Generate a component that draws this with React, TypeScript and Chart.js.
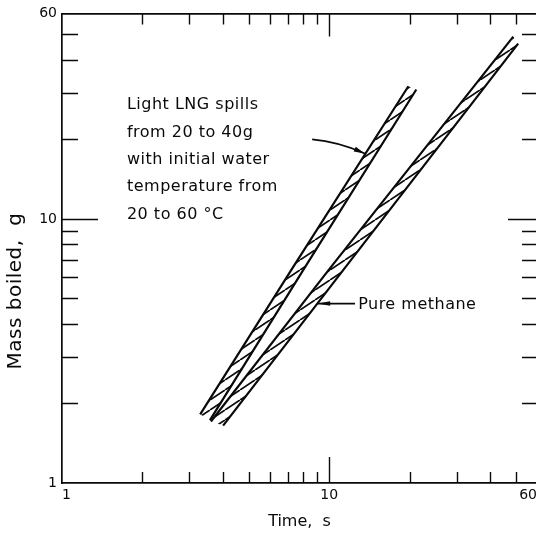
import React, { useEffect, useRef } from 'react';
import { Chart, registerables } from 'chart.js';

Chart.register(...registerables);

// ---------------- data ----------------
const axisMin = 1;
const axisMax = 60;
const tickValues = [1, 2, 3, 4, 5, 6, 7, 8, 9, 10, 20, 30, 40, 50, 60];
const labeledValues = [1, 10, 60];
const majorValues = [10];

// Light LNG band (time s, mass g)
const lngLeftTime = [3.29, 7.27, 19.8];
const lngLeftMass = [1.82, 6.48, 31.8];
const lngRightTime = [3.58, 8.06, 21.2];
const lngRightMass = [1.73, 6.48, 30.9];

// Pure methane band
const methaneLeftTime = [3.61, 10.05, 48.9];
const methaneLeftMass = [1.71, 6.48, 49.0];
const methaneRightTime = [4.01, 11.4, 51.0];
const methaneRightMass = [1.65, 6.48, 46.1];

const xTitle = 'Time,  s';
const yTitle = 'Mass boiled,  g';

const noteLines = [
  'Light LNG spills',
  'from 20 to 40g',
  'with initial water',
  'temperature from',
  '20 to 60 °C',
];
const noteTime = 1.75;
const noteMass = 26.0;
const noteArrowTime = [8.64, 10.8, 13.6];
const noteArrowMass = [20.0, 19.6, 17.7];

const methaneLabel = 'Pure methane';
const methaneLabelTime = 12.84;
const methaneLabelMass = 4.54;
const methaneArrowTime = [12.5, 9.02];
const methaneArrowMass = [4.78, 4.78];

// ---------------- helpers ----------------
const INK = '#0a0a0a';

const toPoints = (xs: number[], ys: number[]) => xs.map((x, i) => ({ x, y: ys[i] }));

function bandPolygon(lx: number[], ly: number[], rx: number[], ry: number[]) {
  return [...toPoints(lx, ly), ...toPoints(rx, ry).reverse()];
}

function makeHatch(): CanvasPattern | string {
  const w = 15;
  const h = 10;
  const c = document.createElement('canvas');
  c.width = w;
  c.height = h;
  const g = c.getContext('2d');
  if (!g) return 'rgba(0,0,0,0.3)';
  g.strokeStyle = INK;
  g.lineWidth = 1.7;
  g.beginPath();
  for (const dx of [-w, 0, w]) {
    g.moveTo(dx, h);
    g.lineTo(dx + w, 0);
  }
  g.stroke();
  return g.createPattern(c, 'repeat') || 'rgba(0,0,0,0.3)';
}

function arrowHead(ctx: CanvasRenderingContext2D, fx: number, fy: number, tx: number, ty: number, len: number, half: number) {
  const ang = Math.atan2(ty - fy, tx - fx);
  ctx.beginPath();
  ctx.moveTo(tx, ty);
  ctx.lineTo(tx - len * Math.cos(ang) + half * Math.sin(ang), ty - len * Math.sin(ang) - half * Math.cos(ang));
  ctx.lineTo(tx - len * Math.cos(ang) - half * Math.sin(ang), ty - len * Math.sin(ang) + half * Math.cos(ang));
  ctx.closePath();
  ctx.fill();
}

const decorPlugin = {
  id: 'decor',
  afterDatasetsDraw(chart: any) {
    const { ctx, chartArea: a, scales } = chart;
    const sx = scales.x;
    const sy = scales.y;
    ctx.save();
    // inward tick marks on all four sides
    ctx.strokeStyle = INK;
    ctx.lineWidth = 1.4;
    ctx.beginPath();
    tickValues.forEach((v) => {
      if (v <= axisMin || v >= axisMax) return;
      const major = majorValues.includes(v);
      const px = Math.round(sx.getPixelForValue(v)) + 0.5;
      ctx.moveTo(px, a.bottom);
      ctx.lineTo(px, a.bottom - (major ? 26 : 11));
      ctx.moveTo(px, a.top);
      ctx.lineTo(px, a.top + (major ? 23 : 11));
      const py = Math.round(sy.getPixelForValue(v)) + 0.5;
      ctx.moveTo(a.left, py);
      ctx.lineTo(a.left + (major ? 36 : 16), py);
      ctx.moveTo(a.right, py);
      ctx.lineTo(a.right - (major ? 29 : 15), py);
    });
    ctx.stroke();

    // annotation text
    ctx.fillStyle = INK;
    ctx.font = '16px "DejaVu Sans"';
    try { (ctx as any).letterSpacing = '0.5px'; } catch (e) { /* ignore */ }
    ctx.textAlign = 'left';
    ctx.textBaseline = 'alphabetic';
    const nx = sx.getPixelForValue(noteTime);
    const ny = sy.getPixelForValue(noteMass);
    noteLines.forEach((s, i) => ctx.fillText(s, nx, ny + i * 27.3));
    ctx.fillText(methaneLabel, sx.getPixelForValue(methaneLabelTime), sy.getPixelForValue(methaneLabelMass));

    // LNG arrow (slightly curved)
    const ax = noteArrowTime.map((t) => sx.getPixelForValue(t));
    const ay = noteArrowMass.map((m) => sy.getPixelForValue(m));
    ctx.lineWidth = 1.7;
    ctx.beginPath();
    ctx.moveTo(ax[0], ay[0]);
    ctx.quadraticCurveTo(ax[1], ay[1], ax[2], ay[2]);
    ctx.stroke();
    arrowHead(ctx, ax[1], ay[1], ax[2], ay[2], 11, 2.6);

    // methane leader
    const mx = methaneArrowTime.map((t) => sx.getPixelForValue(t));
    const my = methaneArrowMass.map((m) => sy.getPixelForValue(m));
    ctx.beginPath();
    ctx.moveTo(mx[0], my[0]);
    ctx.lineTo(mx[1], my[1]);
    ctx.stroke();
    arrowHead(ctx, mx[0], my[0], mx[1], my[1], 13, 2.2);

    // y axis title
    ctx.save();
    ctx.translate(a.left - 46, a.bottom - 192);
    ctx.rotate(-Math.PI / 2);
    ctx.font = '20px "DejaVu Sans"';
    ctx.textAlign = 'center';
    ctx.textBaseline = 'middle';
    ctx.fillText(yTitle, 0, 0);
    ctx.restore();

    ctx.restore();
  },
};

export default function App() {
  const canvasRef = useRef<HTMLCanvasElement | null>(null);

  useEffect(() => {
    const canvas = canvasRef.current;
    if (!canvas) return;
    const hatch = makeHatch();

    const edge = (xs: number[], ys: number[]) => ({
      data: toPoints(xs, ys),
      borderColor: INK,
      borderWidth: 2.2,
      pointRadius: 0,
      fill: false,
      tension: 0,
    });
    const band = (poly: { x: number; y: number }[]) => ({
      data: poly,
      borderColor: 'rgba(0,0,0,0)',
      borderWidth: 0,
      backgroundColor: hatch,
      pointRadius: 0,
      fill: 'shape',
      tension: 0,
    });

    const logAxis = (position: string, extra: any) => ({
      type: 'logarithmic',
      position,
      min: axisMin,
      max: axisMax,
      afterBuildTicks: (scale: any) => {
        scale.ticks = tickValues.map((v) => ({ value: v }));
      },
      grid: { display: true, drawOnChartArea: false, drawTicks: false },
      border: { display: true, color: INK, width: 1.7 },
      ...extra,
    });

    const chart = new Chart(canvas, {
      type: 'line',
      data: {
        datasets: [
          edge(lngLeftTime, lngLeftMass),
          edge(lngRightTime, lngRightMass),
          edge(methaneLeftTime, methaneLeftMass),
          edge(methaneRightTime, methaneRightMass),
          band(bandPolygon(lngLeftTime, lngLeftMass, lngRightTime, lngRightMass)),
          band(bandPolygon(methaneLeftTime, methaneLeftMass, methaneRightTime, methaneRightMass)),
        ] as any,
      },
      options: {
        animation: false,
        responsive: false,
        devicePixelRatio: 1,
        layout: { autoPadding: false, padding: { left: 0, top: 12, right: 8, bottom: 0 } },
        plugins: { legend: { display: false }, tooltip: { enabled: false } },
        scales: {
          x: logAxis('bottom', {
            afterFit: (s: any) => { s.height = 51; },
            ticks: {
              autoSkip: false,
              maxRotation: 0,
              align: 'inner',
              padding: 4,
              color: INK,
              font: { family: '"DejaVu Sans"', size: 14 },
              callback: (v: any) => (labeledValues.includes(Number(v)) ? String(v) : ''),
            },
            title: {
              display: true,
              text: xTitle,
              color: INK,
              font: { family: '"DejaVu Sans"', size: 16 },
              padding: { top: 4, bottom: 3 },
            },
          }),
          xTop: logAxis('top', {
            afterFit: (s: any) => { s.height = 0; },
            ticks: { display: false },
          }),
          y: logAxis('left', {
            afterFit: (s: any) => { s.width = 62; },
            ticks: {
              autoSkip: false,
              padding: 5,
              color: INK,
              font: { family: '"DejaVu Sans"', size: 14 },
              callback: (v: any) => (labeledValues.includes(Number(v)) ? String(v) : ''),
            },
          }),
          yRight: logAxis('right', {
            afterFit: (s: any) => { s.width = 0; },
            ticks: { display: false },
          }),
        },
      } as any,
      plugins: [decorPlugin],
    });

    return () => chart.destroy();
  }, []);

  return (
    <div style={{ position: 'absolute', left: 0, top: 0, width: 536, height: 534, overflow: 'hidden', background: '#fff' }}>
      <canvas ref={canvasRef} width={545} height={534} style={{ display: 'block' }} />
    </div>
  );
}
